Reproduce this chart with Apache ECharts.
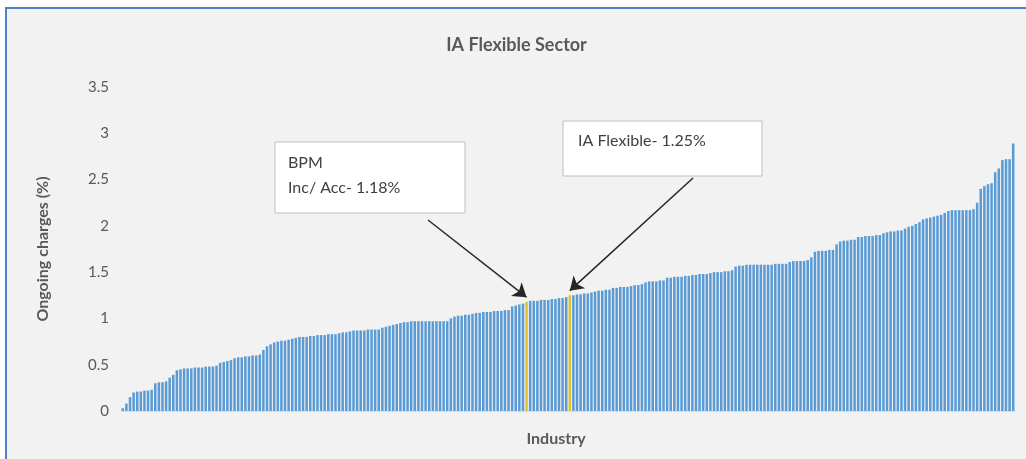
<!DOCTYPE html>
<html>
<head>
<meta charset="utf-8">
<script src="https://cdn.jsdelivr.net/npm/echarts@6/dist/echarts.min.js"></script>
<style>
  html, body { margin: 0; padding: 0; background: #fff; }
  #chart {
    position: absolute;
    left: 5px; top: 7px;
    width: 1019px; height: 450px;
    border-left: 2px solid #4f81c7;
    border-top: 2px solid #4f81c7;
    background: #f2f2f2;
  }
</style>
</head>
<body>
<div id="chart"></div>
<script>
// ongoing charges (%) per fund, sorted ascending
const charges = [
  0.03, 0.08, 0.15,
  0.2, 0.21, 0.21, 0.22, 0.22, 0.23,
  0.3, 0.31, 0.31, 0.32,
  0.36, 0.39,
  0.44, 0.45, 0.46, 0.46, 0.46, 0.47, 0.47, 0.47, 0.48, 0.48, 0.48, 0.49,
  0.52, 0.53, 0.54, 0.55,
  0.57, 0.58, 0.58, 0.59, 0.59, 0.6, 0.6, 0.61,
  0.66,
  0.7, 0.72,
  0.74, 0.75, 0.76, 0.76, 0.77, 0.78,
  0.79, 0.8, 0.8, 0.8, 0.81, 0.81,
  0.82, 0.82, 0.82, 0.83, 0.83, 0.83, 0.84,
  0.85, 0.85, 0.86,
  0.87, 0.87, 0.87, 0.87, 0.88, 0.88, 0.88, 0.88,
  0.9, 0.91, 0.92, 0.93,
  0.94, 0.95, 0.96, 0.96,
  0.97, 0.97, 0.97, 0.97, 0.97, 0.97, 0.97, 0.97, 0.97, 0.97, 0.97,
  1.0, 1.02, 1.03, 1.03, 1.04, 1.04,
  1.05, 1.06, 1.06,
  1.07, 1.07, 1.07, 1.08, 1.08, 1.08, 1.09, 1.09,
  1.13, 1.14, 1.15, 1.16,
  1.18,
  1.19, 1.19, 1.19, 1.2, 1.2, 1.2, 1.21, 1.21,
  1.22, 1.22, 1.23,
  1.25,
  1.25, 1.26, 1.26, 1.27, 1.27,
  1.28, 1.29, 1.3,
  1.3, 1.31, 1.31,
  1.33, 1.33, 1.34, 1.34, 1.34, 1.35,
  1.36, 1.36, 1.37,
  1.39, 1.4, 1.4, 1.4, 1.41, 1.41,
  1.44, 1.44, 1.45, 1.45, 1.45, 1.46, 1.46,
  1.47, 1.47, 1.48, 1.48, 1.48,
  1.49, 1.5, 1.5, 1.5, 1.51, 1.51, 1.52,
  1.56, 1.57, 1.57, 1.58, 1.58, 1.58, 1.58, 1.58, 1.58, 1.58, 1.58, 1.59, 1.59, 1.59, 1.59,
  1.61, 1.62, 1.62, 1.62, 1.62, 1.63,
  1.66,
  1.72, 1.73, 1.73, 1.73, 1.74, 1.74, 1.8,
  1.83, 1.84, 1.84, 1.85, 1.85,
  1.88, 1.88, 1.89, 1.89, 1.89, 1.9, 1.9,
  1.92, 1.93, 1.94, 1.94, 1.95, 1.95,
  1.97, 1.99, 2.0, 2.02, 2.04,
  2.07, 2.08, 2.09, 2.1, 2.11, 2.12, 2.14, 2.16,
  2.17, 2.17, 2.17, 2.17, 2.17, 2.17, 2.18,
  2.25,
  2.4, 2.43, 2.45, 2.46,
  2.58, 2.62,
  2.71, 2.72, 2.72,
  2.89
]

// highlighted funds (bar index into charges)
const highlightIdx = [112, 124]
// where each arrow starts (pixels inside the chart)
const arrowStart = [[421, 211], [686, 169]]

const yTicks = { min: 0, max: 3.5, interval: 0.5 }

const font = 'Lato, "Liberation Sans", sans-serif'

const chart = echarts.init(document.getElementById('chart'))

const barData = charges.map((v, i) => {
  if (highlightIdx.includes(i)) {
    return { value: v, itemStyle: { color: '#e2c12e' } }
  }
  return v
})

const arrows = highlightIdx.map((idx, k) => [
  { x: arrowStart[k][0], y: arrowStart[k][1] },
  { coord: [idx, charges[idx] + 0.05] }
])

const option = {
  animation: false,
  backgroundColor: 'transparent',
  title: {
    text: 'IA Flexible Sector',
    left: 'center',
    top: 22,
    textStyle: { fontFamily: font, fontSize: 18, fontWeight: 'bold', color: '#595959' }
  },
  grid: {
    left: 114,
    right: 11,
    top: 78,
    bottom: 48
  },
  xAxis: {
    type: 'category',
    name: 'Industry',
    nameLocation: 'middle',
    nameGap: 20,
    nameTextStyle: { fontFamily: font, fontSize: 16, fontWeight: 'bold', color: '#595959', padding: [0, 24, 0, 0] },
    axisLine: { lineStyle: { color: '#dcdcdc' } },
    axisTick: { show: false },
    axisLabel: { show: false },
    splitLine: { show: false }
  },
  yAxis: {
    type: 'value',
    min: yTicks.min,
    max: yTicks.max,
    interval: yTicks.interval,
    name: 'Ongoing charges (%)',
    nameLocation: 'middle',
    nameGap: 70,
    nameTextStyle: { fontFamily: font, fontSize: 16, fontWeight: 'bold', color: '#595959' },
    axisLine: { show: false },
    axisTick: { show: false },
    axisLabel: { fontFamily: font, fontSize: 15, color: '#595959', margin: 12 },
    splitLine: { show: false }
  },
  series: [
    {
      type: 'bar',
      data: barData,
      barCategoryGap: '30%',
      itemStyle: { color: '#5b9bd5' },
      markLine: {
        silent: true,
        symbol: ['none', 'arrow'],
        symbolSize: 13,
        label: { show: false },
        lineStyle: { color: '#262626', width: 1.5, type: 'solid' },
        data: arrows
      }
    }
  ],
  graphic: [
    {
      type: 'rect',
      shape: { x: 268, y: 133, width: 190, height: 71 },
      style: { fill: '#fff', stroke: '#bfbfbf', lineWidth: 1 },
      z: 10
    },
    {
      type: 'text',
      x: 281, y: 141,
      style: {
        text: 'BPM\nInc/ Acc- 1.18%',
        fontFamily: font, fontSize: 16, lineHeight: 25, fill: '#404040'
      },
      z: 11
    },
    {
      type: 'rect',
      shape: { x: 556, y: 112, width: 199, height: 55 },
      style: { fill: '#fff', stroke: '#bfbfbf', lineWidth: 1 },
      z: 10
    },
    {
      type: 'text',
      x: 571, y: 124,
      style: {
        text: 'IA Flexible- 1.25%',
        fontFamily: font, fontSize: 16, fill: '#404040'
      },
      z: 11
    }
  ]
}

chart.setOption(option)
</script>
</body>
</html>
